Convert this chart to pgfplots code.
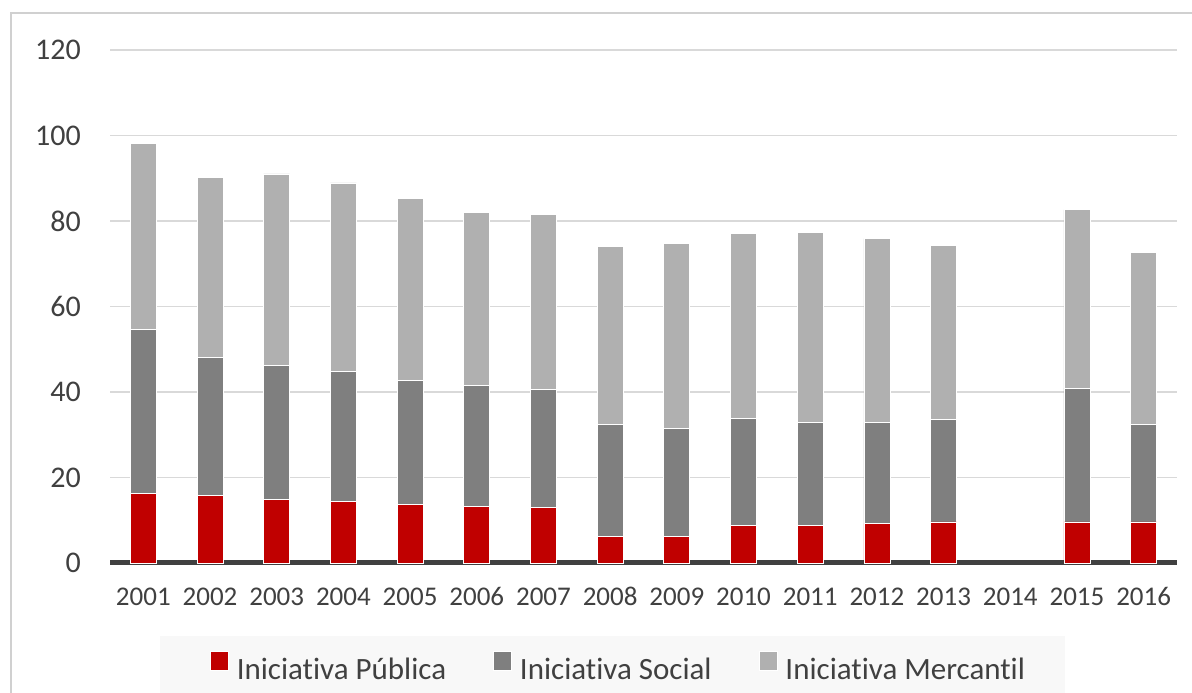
\documentclass[border=0pt]{standalone}
\usepackage{pgfplots}
\pgfplotsset{compat=1.18}
\usepackage{pgfplotstable}
\usepackage{fontspec}
\setmainfont{Carlito}[Ligatures={NoCommon}]
\definecolor{cpub}{HTML}{C00000}
\definecolor{csoc}{HTML}{7F7F7F}
\definecolor{cmer}{HTML}{B0B0B0}
\definecolor{cgrid}{HTML}{D9D9D9}
\definecolor{caxis}{HTML}{404040}
\definecolor{ctext}{HTML}{404040}
\definecolor{cborder}{HTML}{D0D0D0}
\definecolor{clegbg}{HTML}{F8F8F8}

\pgfplotstableread{
x year pub soc mer
0 2001 16.3 38.4 43.5
1 2002 15.7 32.3 42.1
2 2003 14.9 31.3 44.8
3 2004 14.3 30.5 44.1
4 2005 13.8 29.0 42.5
5 2006 13.3 28.2 40.5
6 2007 12.9 27.6 41.1
7 2008 6.2 26.2 41.7
8 2009 6.2 25.3 43.2
9 2010 8.7 25.1 43.2
10 2011 8.7 24.2 44.5
11 2012 9.2 23.7 43.0
12 2013 9.6 23.9 40.7
13 2014 0 0 0
14 2015 9.6 31.3 41.7
15 2016 9.6 22.8 40.3
}\data

\begin{document}
\begin{tikzpicture}
\useasboundingbox (0pt,0pt) rectangle (1192pt,693pt);
\fill[white] (0pt,0pt) rectangle (1192pt,693pt);
\draw[cborder, line width=1.5pt] (11pt,-5pt) -- (11pt,680pt) -- (1200pt,680pt);
\fill[clegbg] (160pt,-5pt) rectangle (1065pt,57pt);
\begin{axis}[
  at={(110pt,130pt)}, anchor=south west,
  scale only axis, width=1067pt, height=513pt,
  xmin=-0.5, xmax=15.5, ymin=0, ymax=120,
  ybar stacked, bar width=26pt,
  axis line style={draw=none},
  xtick={0,...,15},
  xticklabels={2001,2002,2003,2004,2005,2006,2007,2008,2009,2010,2011,2012,2013,2014,2015,2016},
  ytick={0,20,...,120},
  major tick style={draw=none},
  ymajorgrids, grid style={cgrid, line width=1.5pt},
  /pgf/number format/assume math mode=true,
  xticklabel style={font=\fontsize{27}{30}\selectfont, text=ctext, inner sep=0pt, anchor=base, yshift=-43pt},
  yticklabel style={font=\fontsize{30}{33}\selectfont, text=ctext, inner sep=0pt, anchor=east, xshift=-29pt},
  legend columns=3,
  legend style={at={(0.0937,-0.2008)}, anchor=west, draw=none, fill=none, inner sep=0pt, outer sep=0pt,
    font=\fontsize{31}{34}\selectfont, text=ctext, nodes={inner sep=0pt},
    /tikz/every even column/.append style={column sep=47pt},
    /tikz/every odd column/.append style={column sep=8pt}},
  legend image code/.code={\path[#1] (0pt,-1pt) rectangle (18pt,18pt);},
  clip=false,
]
\addplot[fill=cpub, draw=white, line width=0.8pt] table[x=x, y=pub] {\data};
\addlegendentry{Iniciativa Pública}
\addplot[fill=csoc, draw=white, line width=0.8pt] table[x=x, y=soc] {\data};
\addlegendentry{Iniciativa Social}
\addplot[fill=cmer, draw=white, line width=0.8pt] table[x=x, y=mer] {\data};
\addlegendentry{Iniciativa Mercantil}
\draw[caxis, line width=5pt] (axis cs:-0.5,0) -- (axis cs:15.5,0);
\end{axis}
\end{tikzpicture}
\end{document}
